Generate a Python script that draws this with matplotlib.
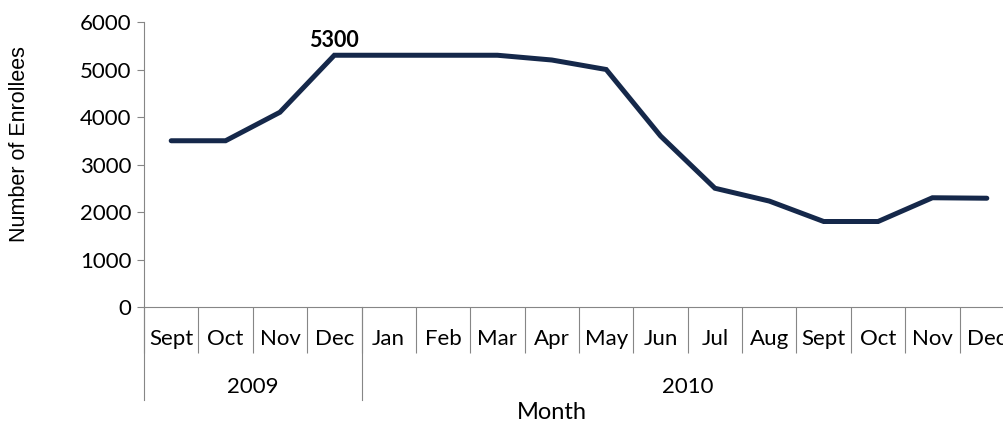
import matplotlib.pyplot as plt
import numpy as np

# 数据
months = ['Sept', 'Oct', 'Nov', 'Dec', 'Jan', 'Feb', 'Mar', 'Apr', 'May', 'Jun',
          'Jul', 'Aug', 'Sept', 'Oct', 'Nov', 'Dec']
years = ['2009', '2010']
year_counts = [4, 12]
enrollees = [3500, 3500, 4100, 5300, 5300, 5300, 5300, 5200, 5000, 3600,
             2500, 2230, 1800, 1800, 2300, 2290]
peak_label = 5300

W, H = 1004, 423
fig = plt.figure(figsize=(W / 100, H / 100), dpi=100)
# 右侧故意超出画布，和原图一样被截掉
ax = fig.add_axes([144 / W, 116 / H, (1014 - 144) / W, 285 / H])

font = ['Lato', 'DejaVu Sans']
axis_grey = '#868686'
line_col = '#15284a'

x = np.arange(len(months))
ax.plot(x, enrollees, color=line_col, lw=3.6, solid_capstyle='round', solid_joinstyle='miter')

ax.set_xlim(-0.5, len(months) - 0.5)
ax.set_ylim(0, 6000)
ax.set_yticks(np.arange(0, 6001, 1000))
ax.tick_params(axis='y', length=5, width=0.8, color=axis_grey, labelsize=16, pad=4)
for lab in ax.get_yticklabels():
    lab.set_family(font)

for s in ['top', 'right']:
    ax.spines[s].set_visible(False)
for s in ['left', 'bottom']:
    ax.spines[s].set_color(axis_grey)
    ax.spines[s].set_linewidth(0.8)

# 月份标签 + 分隔线
ax.set_xticks(x)
ax.set_xticklabels(months, fontfamily=font, fontsize=16)
ax.tick_params(axis='x', length=0, pad=16)
ax.set_xticks(np.arange(-0.5, len(months), 1), minor=True)
ax.tick_params(axis='x', which='minor', length=33, width=0.8, color=axis_grey)

# 年份分隔线和标签
trans = ax.get_xaxis_transform()
px = 1.0 / 285  # 一个像素在轴坐标中的高度
start = -0.5
for yr, n in zip(years, year_counts):
    ax.plot([start, start], [0, -93 * px], transform=trans, color=axis_grey,
            lw=0.8, clip_on=False)
    ax.text(start + n / 2, -80 * px, yr, transform=trans, ha='center', va='center',
            fontsize=16, fontfamily=font)
    start += n

ax.text(7.0, -105 * px, 'Month', transform=trans, ha='center', va='center',
        fontsize=17, fontfamily=font)

fig.text(20 / W, 1 - 144 / H, 'Number of Enrollees', rotation=90, ha='center', va='center',
         fontsize=15.5, fontfamily=['Liberation Sans', 'DejaVu Sans'])

i = enrollees.index(peak_label)
ax.annotate(str(peak_label), (x[i], enrollees[i]), xytext=(0, 3), textcoords='offset points',
            ha='center', va='bottom', fontsize=15.5, fontweight='bold', fontfamily=font)

fig.savefig('out.png', dpi=100)
